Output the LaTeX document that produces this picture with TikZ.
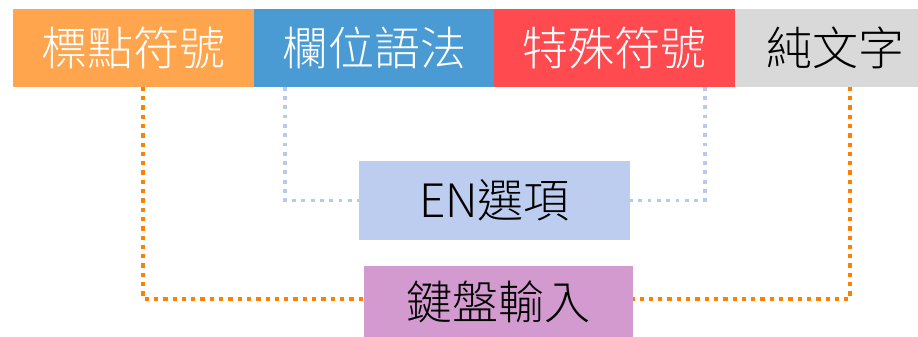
\documentclass[tikz,border=0pt]{standalone}
\usepackage{fontspec}
\setmainfont{Noto Sans CJK TC Light}
\definecolor{cOrange}{HTML}{FFA54D}
\definecolor{cBlue}{HTML}{4A9AD4}
\definecolor{cRed}{HTML}{FF4B4F}
\definecolor{cGray}{HTML}{D9D9D9}
\definecolor{cLight}{HTML}{BDCDF0}
\definecolor{cPink}{HTML}{D29ACE}
\definecolor{lOrange}{HTML}{FF8000}
\definecolor{lBlue}{HTML}{B8CAEC}
\begin{document}
\begin{tikzpicture}[x=1pt,y=-1pt,
  topbox/.style={rectangle,inner sep=0pt,minimum height=77pt,text=white,font=\fontsize{46}{52}\selectfont},
  midbox/.style={rectangle,inner sep=0pt,text=black,font=\fontsize{46}{52}\selectfont},
  odots/.style={draw=lOrange,line width=4.3pt,dash pattern=on 4.3pt off 5pt},
  bdots/.style={draw=lBlue,line width=3.8pt,dash pattern=on 3.8pt off 5.5pt}]
\useasboundingbox (0,0) rectangle (918,337);
\node[topbox,fill=cOrange,minimum width=241pt] (punct) at (133.5,48) {標點符號};
\node[topbox,fill=cBlue,minimum width=240pt] (field) at (374,48) {欄位語法};
\node[topbox,fill=cRed,minimum width=241pt] (special) at (614.5,48) {特殊符號};
\node[topbox,fill=cGray,minimum width=201pt,text=black] (plain) at (835.5,48) {純文字};
\node[midbox,fill=cLight,minimum width=271pt,minimum height=79pt] (en) at (494.5,200.5) {EN選項};
\node[midbox,fill=cPink,minimum width=269pt,minimum height=71pt] (kbd) at (498.5,301.5) {鍵盤輸入};
\draw[bdots] ([xshift=-89pt]field.south) |- (en.west);
\draw[bdots] ([xshift=90.5pt]special.south) |- (en.east);
\draw[odots] ([xshift=9.5pt]punct.south) |- ([yshift=2.5pt]kbd.west);
\draw[odots] ([xshift=14.5pt]plain.south) |- ([yshift=2.5pt]kbd.east);
\end{tikzpicture}
\end{document}
